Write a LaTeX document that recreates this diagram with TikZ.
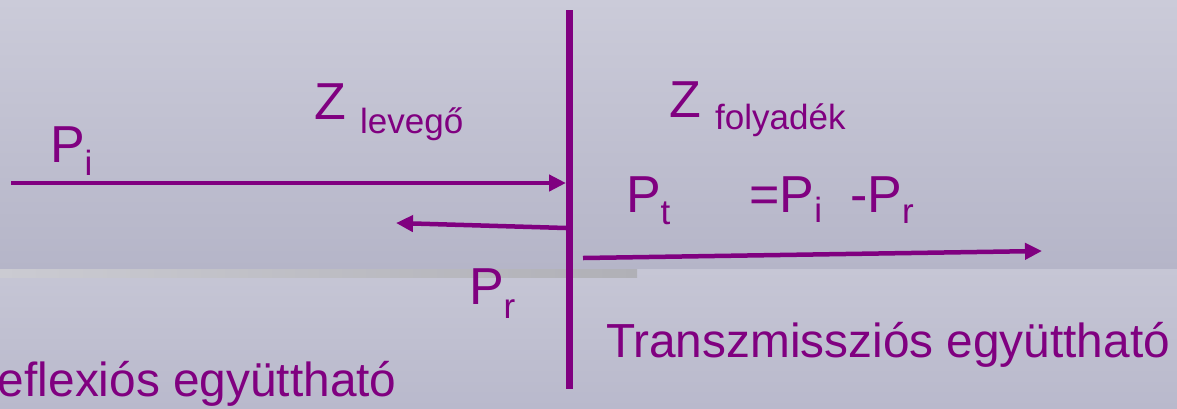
\documentclass[tikz,border=0pt]{standalone}
\usepackage{fontspec}
\setmainfont{Liberation Sans}
\usetikzlibrary{arrows.meta}
\definecolor{purp}{RGB}{128,0,128}
\definecolor{bgA}{RGB}{203,203,217}
\definecolor{bgB}{RGB}{181,181,200}
\definecolor{bgC}{RGB}{198,198,213}
\definecolor{bgD}{RGB}{185,185,204}
\definecolor{bandL}{RGB}{203,203,210}
\definecolor{bandR}{RGB}{176,176,182}
\newcommand\mysub[2][13pt]{\raisebox{-#1}{\fontsize{35}{35}\selectfont #2}}
\begin{document}
\begin{tikzpicture}[x=1pt,y=-1pt,
  txt/.style={anchor=base west, inner sep=0pt, outer sep=0pt, text=purp, font=\fontsize{52}{52}\selectfont},
  label/.style={txt, font=\fontsize{47.8}{47.8}\selectfont},
  arr/.style={draw=purp, line width=4.5pt, -{Triangle[length=17pt,width=16pt]}},
  wall/.style={draw=purp, line width=7pt}]
\useasboundingbox (0,0) rectangle (1177,408);
% background
\shade[top color=bgA, bottom color=bgB, draw=none] (0,0) rectangle (1177,269);
\shade[top color=bgC, bottom color=bgD, draw=none] (0,269) rectangle (1177,408);
\shade[left color=bandL, right color=bandR, draw=none] (0,269) rectangle (637,277);
% wall
\coordinate (wt) at (569.5,10);
\coordinate (wb) at (569.5,389);
\draw[wall] (wt) -- (wb);
% arrows
\coordinate (iS) at (11,183);
\coordinate (iE) at (566,183);
\draw[arr] (iS) -- (iE);
\coordinate (rS) at (566,228);
\coordinate (rE) at (396,223);
\draw[arr] (rS) -- (rE);
\coordinate (tS) at (583,258);
\coordinate (tE) at (1042,251);
\draw[arr] (tS) -- (tE);
% texts
\node[txt] (pi) at (50,162) {P\mysub{i}};
\node[txt] (zl) at (314,119) {Z \mysub[14pt]{levegő}};
\node[txt] (zf) at (669,117) {Z \mysub[12pt]{folyadék}};
\node[txt] (pt) at (626,212) {P\mysub[12pt]{t}\hspace*{79pt}=P\mysub[10pt]{i}\hspace*{28pt}-P\mysub[11pt]{r}};
\node[txt] (pr) at (469,304) {P\mysub[14pt]{r}};
\node[label] (tr) at (606,357) {Transzmissziós együttható};
\node[label] (re) at (-2,396) {eflexiós együttható};
\end{tikzpicture}
\end{document}
